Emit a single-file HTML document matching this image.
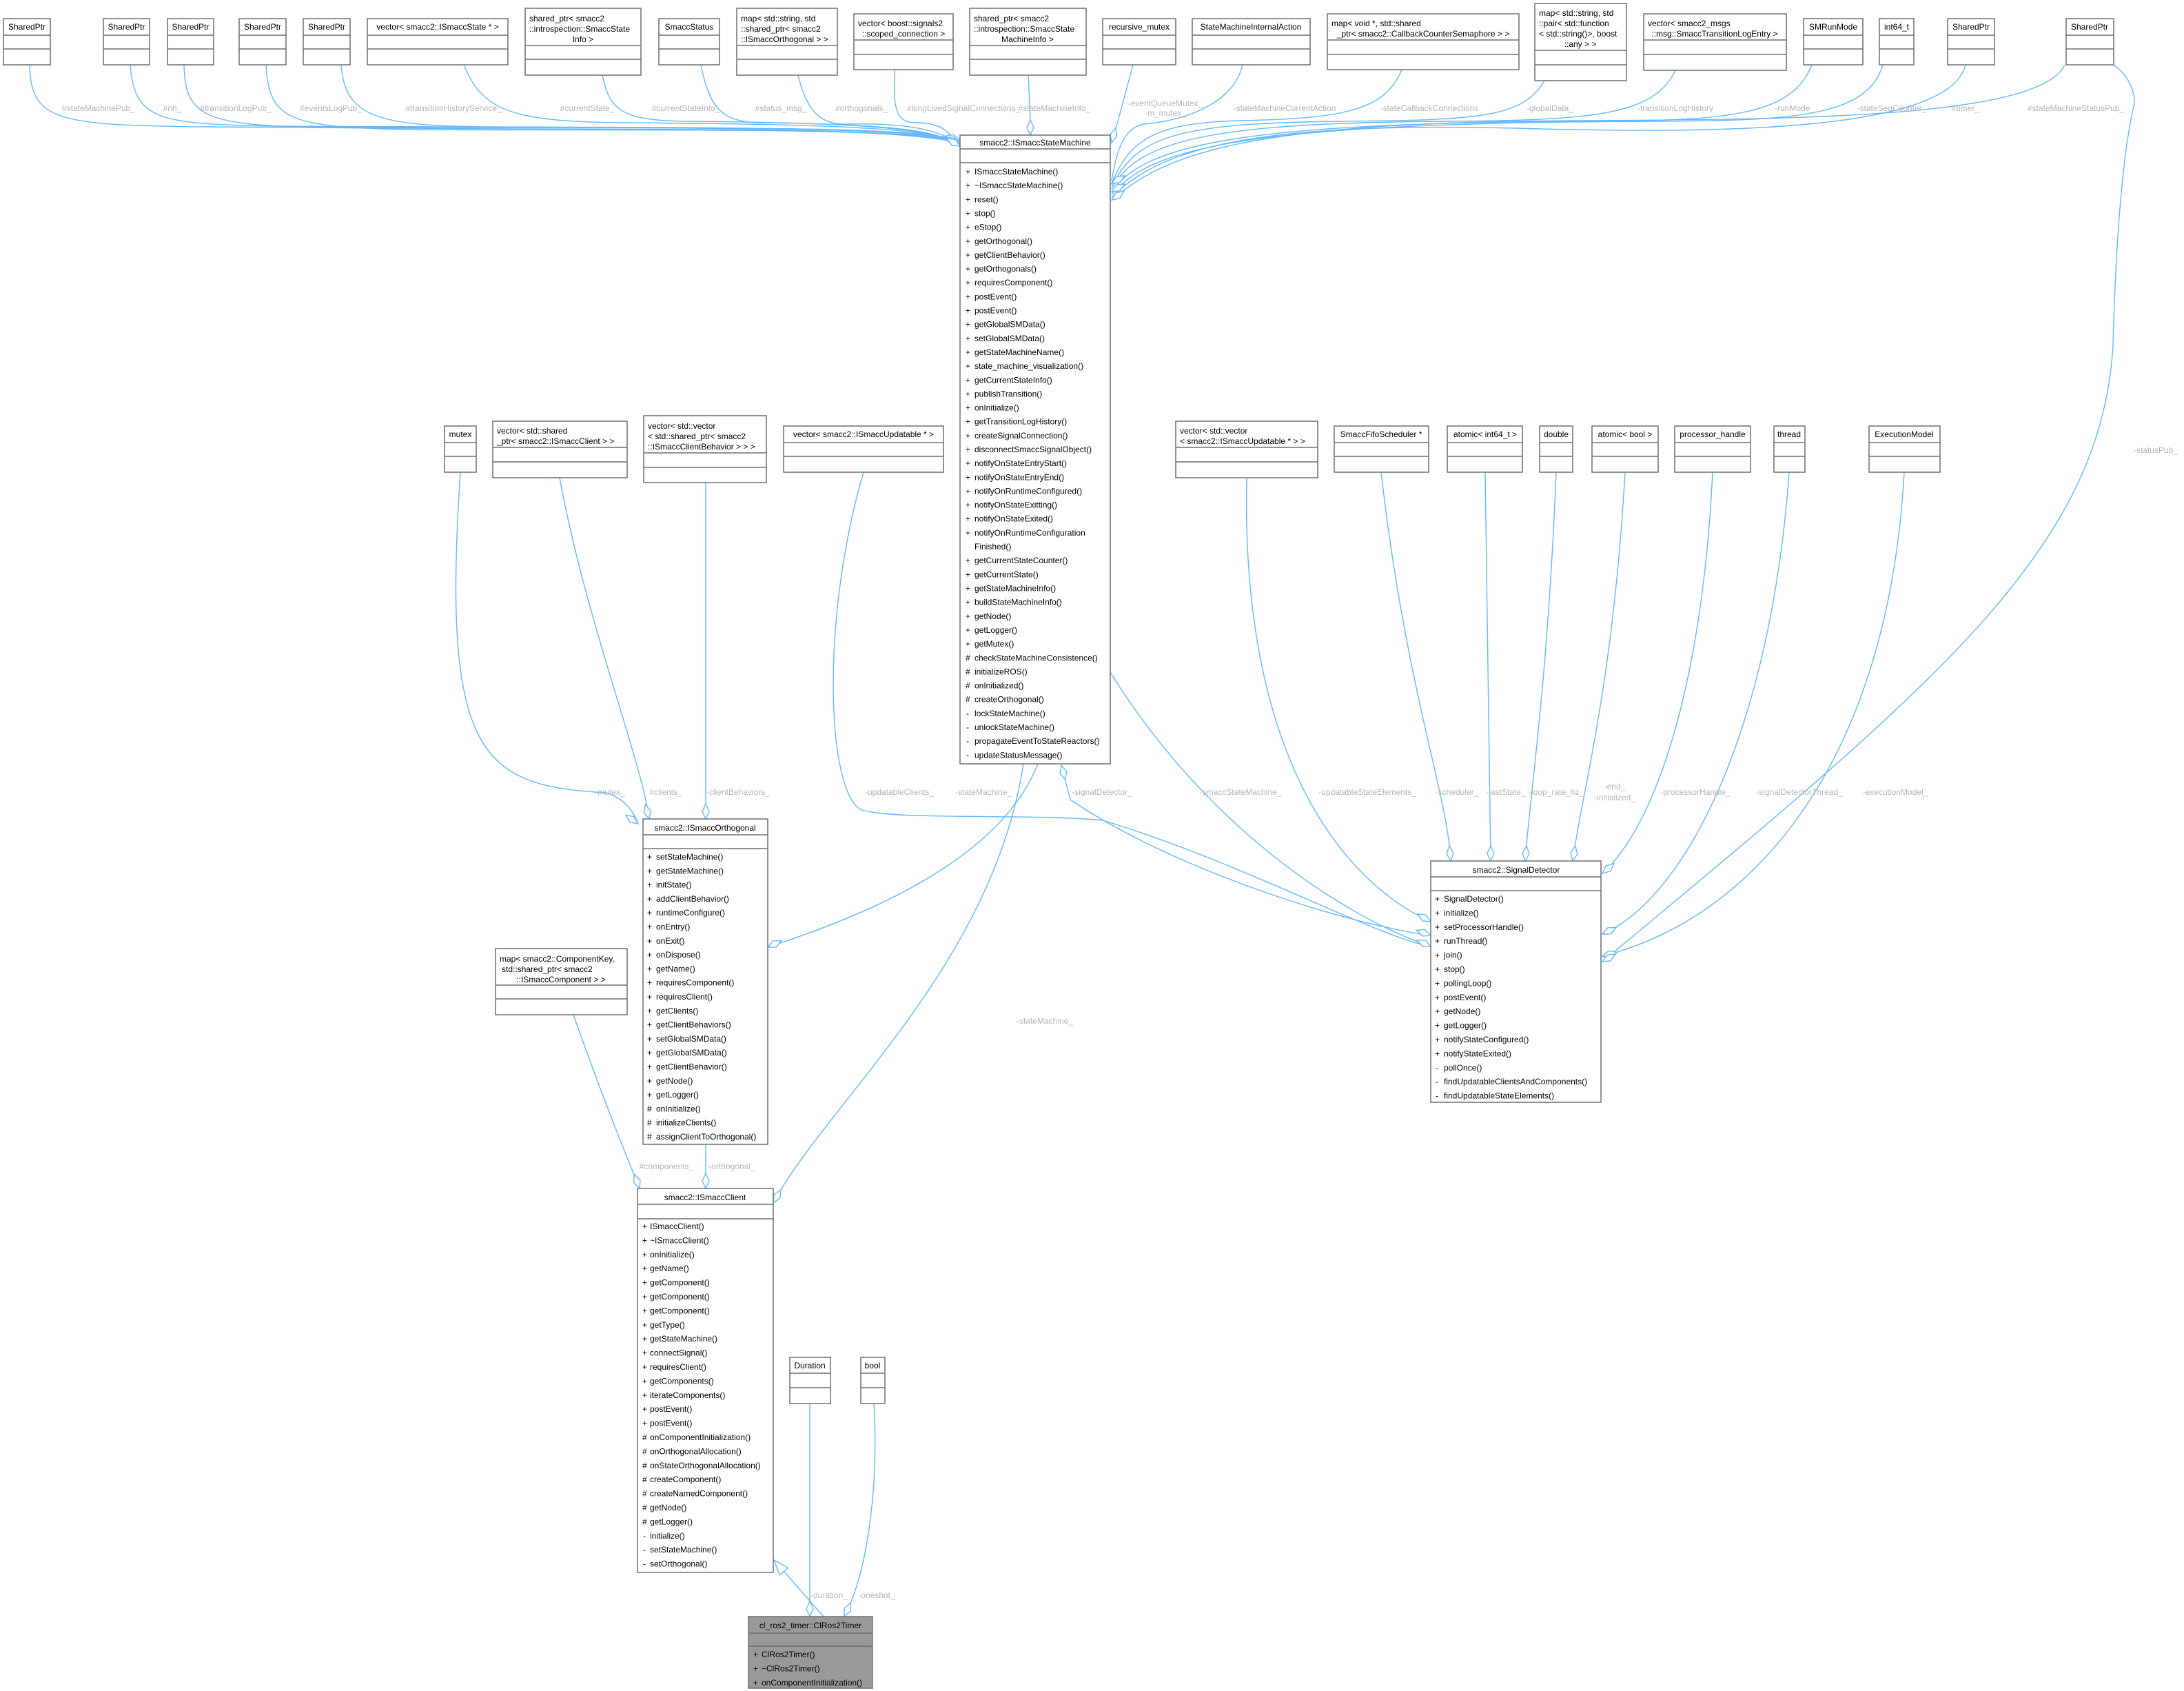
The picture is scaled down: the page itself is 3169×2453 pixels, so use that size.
<!DOCTYPE html>
<html><head><meta charset="utf-8"><style>
html,body{margin:0;padding:0;background:#fff;}
svg{display:block;}
text{font-family:"Liberation Sans",Arial,sans-serif;font-size:12px;fill:#000;}
.l text{fill:#b4b4b4;font-size:12px;}
.b{fill:#fff;stroke:#6e6e6e;stroke-width:1.5;}
.d{stroke:#6e6e6e;stroke-width:1.5;}
.e{fill:none;stroke:#63b8ff;stroke-width:1.4;}
.dm{fill:#fff;stroke:#63b8ff;stroke-width:1.4;}
</style></head><body>
<svg width="3169" height="2453" viewBox="0 0 3169 2453" xmlns="http://www.w3.org/2000/svg">
<defs>
<polygon id="dia" points="0,0 -11,-5 -22,0 -11,5"/>
</defs>

<g class="e">
<path d="M43,94 C45,175 80,182 300,184 C900,188 1300,178 1391,203"/>
<path d="M189,94 C195,175 230,180 400,183 C900,186 1300,180 1391,204"/>
<path d="M267,94 C268,170 300,180 450,185 C900,190 1300,182 1391,205"/>
<path d="M386,94 C390,175 420,185 600,188 C1000,190 1300,184 1391,206"/>
<path d="M495,94 C500,170 550,182 700,184 C1000,186 1300,185 1391,207"/>
<path d="M673,94 C700,160 740,176 900,178 C1200,180 1350,185 1391,208"/>
<path d="M874,109 C885,160 900,175 1000,176 C1250,178 1350,186 1391,209"/>
<path d="M1017,94 C1030,160 1050,176 1100,178 C1300,180 1360,190 1391,210"/>
<path d="M1158,109 C1170,160 1190,182 1230,180 C1320,178 1370,190 1391,211"/>
<path d="M1298,101 C1296,160 1300,178 1330,178 C1370,178 1380,195 1391,212"/>
<path d="M1492,109 L1495,174"/>
<path d="M1644,94 L1614,206"/>
<path d="M1803,94 C1790,150 1720,175 1660,180 C1630,185 1620,220 1613,262"/>
<path d="M2034,101 C2010,160 1950,172 1800,175 C1680,178 1640,200 1613,266"/>
<path d="M2241,117 C2210,170 2150,174 1950,176 C1700,178 1650,200 1613,270"/>
<path d="M2431,102 C2400,170 2300,174 2100,176 C1750,178 1650,205 1613,274"/>
<path d="M2629,94 C2600,170 2500,175 2300,176 C1800,178 1660,210 1613,278"/>
<path d="M2732,94 C2710,170 2600,175 2400,176 C1800,178 1670,215 1613,282"/>
<path d="M2852,94 C2830,190 2500,195 2200,186 C1800,176 1680,220 1613,286"/>
<path d="M2996,94 C2960,172 2600,173 2300,175 C1800,176 1690,225 1613,290"/>
<path d="M3066,94 C3085,105 3098,130 3097,150 C3080,220 3070,350 3066,500 C3050,800 2800,1000 2325,1395"/>
<path d="M668,685 C640,1100 700,1140 880,1150 C910,1160 920,1180 926,1195"/>
<path d="M812,693 C850,900 930,1100 942,1188"/>
<path d="M1024,700 L1024,1188"/>
<path d="M1253,685 C1190,900 1200,1150 1250,1175 C1300,1190 1500,1180 1600,1190 C1800,1250 2000,1360 2076,1373"/>
<path d="M1506,1108 C1450,1250 1250,1330 1114,1374"/>
<path d="M1485,1108 C1440,1400 1200,1600 1122,1745"/>
<path d="M1540,1110 L1553,1160 C1700,1260 1950,1340 2076,1357"/>
<path d="M1611,975 C1750,1200 1950,1330 2076,1373"/>
<path d="M1809,693 C1800,1100 1950,1280 2076,1337"/>
<path d="M2004,685 C2040,1000 2100,1150 2105,1249"/>
<path d="M2155,685 C2158,1000 2162,1150 2163,1249"/>
<path d="M2258,685 C2245,1000 2220,1150 2213,1249"/>
<path d="M2358,685 C2340,1000 2295,1150 2282,1249"/>
<path d="M2485,685 C2470,1000 2400,1200 2325,1267"/>
<path d="M2596,685 C2570,1050 2450,1300 2325,1355"/>
<path d="M2763,685 C2740,1100 2550,1330 2325,1387"/>
<path d="M1024,1660 L1024,1724"/>
<path d="M832,1472 C870,1580 910,1680 928,1724"/>
<path d="M1175,2036 L1175,2345"/>
<path d="M1268,2036 C1275,2150 1260,2280 1225,2345"/>
<path d="M1195,2345 L1123,2263"/>
</g>

<g class="dm">
<use href="#dia" transform="translate(1393,203) rotate(15)"/>
<use href="#dia" transform="translate(1393,206) rotate(15)"/>
<use href="#dia" transform="translate(1393,209) rotate(20)"/>
<use href="#dia" transform="translate(1393,212) rotate(30)"/>
<use href="#dia" transform="translate(1495,196) rotate(90)"/>
<use href="#dia" transform="translate(1613,207) rotate(105)"/>
<use href="#dia" transform="translate(1613,266) rotate(150)"/>
<use href="#dia" transform="translate(1613,278) rotate(150)"/>
<use href="#dia" transform="translate(1613,290) rotate(145)"/>
<use href="#dia" transform="translate(926,1195) rotate(35)"/>
<use href="#dia" transform="translate(942,1188) rotate(75)"/>
<use href="#dia" transform="translate(1024,1188) rotate(90)"/>
<use href="#dia" transform="translate(1114,1374) rotate(155)"/>
<use href="#dia" transform="translate(1122,1745) rotate(120)"/>
<use href="#dia" transform="translate(1540,1110) rotate(-105)"/>
<use href="#dia" transform="translate(2076,1337) rotate(30)"/>
<use href="#dia" transform="translate(2076,1357) rotate(20)"/>
<use href="#dia" transform="translate(2076,1373) rotate(25)"/>
<use href="#dia" transform="translate(2105,1249) rotate(85)"/>
<use href="#dia" transform="translate(2163,1249) rotate(90)"/>
<use href="#dia" transform="translate(2213,1249) rotate(95)"/>
<use href="#dia" transform="translate(2282,1249) rotate(100)"/>
<use href="#dia" transform="translate(2325,1267) rotate(140)"/>
<use href="#dia" transform="translate(2325,1355) rotate(155)"/>
<use href="#dia" transform="translate(2325,1387) rotate(165)"/>
<use href="#dia" transform="translate(2325,1395) rotate(150)"/>
<use href="#dia" transform="translate(1024,1724) rotate(90)"/>
<use href="#dia" transform="translate(928,1724) rotate(70)"/>
<use href="#dia" transform="translate(1175,2345) rotate(90)"/>
<use href="#dia" transform="translate(1225,2345) rotate(115)"/>
<polygon points="0,0 -22,-8 -22,8" transform="translate(1123,2263) rotate(-131)"/>
</g>

<g class="l" text-anchor="middle">
<text x="143" y="161">#stateMachinePub_</text>
<text x="250" y="161">#nh_</text>
<text x="342" y="161">#transitionLogPub_</text>
<text x="480" y="161">#eventsLogPub_</text>
<text x="658" y="161">#transitionHistoryService_</text>
<text x="852" y="161">#currentState_</text>
<text x="995" y="161">#currentStateInfo_</text>
<text x="1133" y="161">#status_msg_</text>
<text x="1250" y="161">#orthogonals_</text>
<text x="1398" y="161">#longLivedSignalConnections_</text>
<text x="1530" y="161">#stateMachineInfo_</text>
<text x="1691" y="154">-eventQueueMutex_</text>
<text x="1691" y="168">-m_mutex_</text>
<text x="1864" y="161">-stateMachineCurrentAction</text>
<text x="2074" y="161">-stateCallbackConnections</text>
<text x="2249" y="161">-globalData_</text>
<text x="2431" y="161">-transitionLogHistory</text>
<text x="2604" y="161">-runMode_</text>
<text x="2745" y="161">-stateSeqCounter_</text>
<text x="2852" y="161">#timer_</text>
<text x="3012" y="161">#stateMachineStatusPub_</text>
<text x="3128" y="657">-statusPub_</text>
<text x="885" y="1153">-mutex_</text>
<text x="966" y="1153">#clients_</text>
<text x="1071" y="1153">-clientBehaviors_</text>
<text x="1305" y="1153">-updatableClients_</text>
<text x="1427" y="1153">-stateMachine_</text>
<text x="1599" y="1153">-signalDetector_</text>
<text x="1800" y="1153">-smaccStateMachine_</text>
<text x="1984" y="1153">-updatableStateElements_</text>
<text x="2114" y="1153">-scheduler_</text>
<text x="2185" y="1153">-lastState_</text>
<text x="2258" y="1153">-loop_rate_hz_</text>
<text x="2343" y="1145">-end_</text>
<text x="2343" y="1161">-initialized_</text>
<text x="2460" y="1153">-processorHandle_</text>
<text x="2611" y="1153">-signalDetectorThread_</text>
<text x="2750" y="1153">-executionModel_</text>
<text x="1516" y="1485">-stateMachine_</text>
<text x="967" y="1696">#components_</text>
<text x="1062" y="1696">-orthogonal_</text>
<text x="1203" y="2318">-duration_</text>
<text x="1272" y="2318">-oneshot_</text>
</g>

<g>
<rect class="b" x="5" y="27" width="68" height="67"/><line class="d" x1="5" y1="51" x2="73" y2="51"/><line class="d" x1="5" y1="71" x2="73" y2="71"/><text x="39" y="43" text-anchor="middle">SharedPtr</text>
<rect class="b" x="150" y="27" width="67" height="67"/><line class="d" x1="150" y1="51" x2="217" y2="51"/><line class="d" x1="150" y1="71" x2="217" y2="71"/><text x="183.5" y="43" text-anchor="middle">SharedPtr</text>
<rect class="b" x="243" y="27" width="67" height="67"/><line class="d" x1="243" y1="51" x2="310" y2="51"/><line class="d" x1="243" y1="71" x2="310" y2="71"/><text x="276.5" y="43" text-anchor="middle">SharedPtr</text>
<rect class="b" x="347" y="27" width="68" height="67"/><line class="d" x1="347" y1="51" x2="415" y2="51"/><line class="d" x1="347" y1="71" x2="415" y2="71"/><text x="381" y="43" text-anchor="middle">SharedPtr</text>
<rect class="b" x="440" y="27" width="68" height="67"/><line class="d" x1="440" y1="51" x2="508" y2="51"/><line class="d" x1="440" y1="71" x2="508" y2="71"/><text x="474" y="43" text-anchor="middle">SharedPtr</text>
<rect class="b" x="533" y="27" width="204" height="67"/><line class="d" x1="533" y1="51" x2="737" y2="51"/><line class="d" x1="533" y1="71" x2="737" y2="71"/><text x="635" y="43" text-anchor="middle">vector&lt; smacc2::ISmaccState * &gt;</text>
<rect class="b" x="762" y="12" width="168" height="97"/><line class="d" x1="762" y1="66" x2="930" y2="66"/><line class="d" x1="762" y1="86" x2="930" y2="86"/><text x="768" y="31">shared_ptr&lt; smacc2</text><text x="768" y="46">::introspection::SmaccState</text><text x="846" y="61" text-anchor="middle">Info &gt;</text>
<rect class="b" x="956" y="27" width="88" height="67"/><line class="d" x1="956" y1="51" x2="1044" y2="51"/><line class="d" x1="956" y1="71" x2="1044" y2="71"/><text x="1000" y="43" text-anchor="middle">SmaccStatus</text>
<rect class="b" x="1069" y="12" width="146" height="97"/><line class="d" x1="1069" y1="66" x2="1215" y2="66"/><line class="d" x1="1069" y1="86" x2="1215" y2="86"/><text x="1075" y="31">map&lt; std::string, std</text><text x="1075" y="46">::shared_ptr&lt; smacc2</text><text x="1075" y="61">::ISmaccOrthogonal &gt; &gt;</text>
<rect class="b" x="1239" y="20" width="144" height="81"/><line class="d" x1="1239" y1="58" x2="1383" y2="58"/><line class="d" x1="1239" y1="79" x2="1383" y2="79"/><text x="1245" y="38">vector&lt; boost::signals2</text><text x="1311" y="53" text-anchor="middle">::scoped_connection &gt;</text>
<rect class="b" x="1407" y="12" width="169" height="97"/><line class="d" x1="1407" y1="66" x2="1576" y2="66"/><line class="d" x1="1407" y1="86" x2="1576" y2="86"/><text x="1413" y="31">shared_ptr&lt; smacc2</text><text x="1413" y="46">::introspection::SmaccState</text><text x="1491" y="61" text-anchor="middle">MachineInfo &gt;</text>
<rect class="b" x="1600" y="27" width="106" height="67"/><line class="d" x1="1600" y1="51" x2="1706" y2="51"/><line class="d" x1="1600" y1="71" x2="1706" y2="71"/><text x="1653" y="43" text-anchor="middle">recursive_mutex</text>
<rect class="b" x="1730" y="27" width="171" height="67"/><line class="d" x1="1730" y1="51" x2="1901" y2="51"/><line class="d" x1="1730" y1="71" x2="1901" y2="71"/><text x="1815" y="43" text-anchor="middle">StateMachineInternalAction</text>
<rect class="b" x="1926" y="20" width="278" height="81"/><line class="d" x1="1926" y1="58" x2="2204" y2="58"/><line class="d" x1="1926" y1="79" x2="2204" y2="79"/><text x="1932" y="38">map&lt; void *, std::shared</text><text x="2065" y="53" text-anchor="middle">_ptr&lt; smacc2::CallbackCounterSemaphore &gt; &gt;</text>
<rect class="b" x="2227" y="5" width="133" height="112"/><line class="d" x1="2227" y1="73" x2="2360" y2="73"/><line class="d" x1="2227" y1="94" x2="2360" y2="94"/><text x="2233" y="23">map&lt; std::string, std</text><text x="2233" y="38">::pair&lt; std::function</text><text x="2233" y="53">&lt; std::string()&gt;, boost</text><text x="2293" y="68" text-anchor="middle">::any &gt; &gt;</text>
<rect class="b" x="2385" y="20" width="207" height="82"/><line class="d" x1="2385" y1="58" x2="2592" y2="58"/><line class="d" x1="2385" y1="79" x2="2592" y2="79"/><text x="2391" y="38">vector&lt; smacc2_msgs</text><text x="2488" y="53" text-anchor="middle">::msg::SmaccTransitionLogEntry &gt;</text>
<rect class="b" x="2617" y="27" width="86" height="67"/><line class="d" x1="2617" y1="51" x2="2703" y2="51"/><line class="d" x1="2617" y1="71" x2="2703" y2="71"/><text x="2660" y="43" text-anchor="middle">SMRunMode</text>
<rect class="b" x="2727" y="27" width="50" height="67"/><line class="d" x1="2727" y1="51" x2="2777" y2="51"/><line class="d" x1="2727" y1="71" x2="2777" y2="71"/><text x="2752" y="43" text-anchor="middle">int64_t</text>
<rect class="b" x="2826" y="27" width="68" height="67"/><line class="d" x1="2826" y1="51" x2="2894" y2="51"/><line class="d" x1="2826" y1="71" x2="2894" y2="71"/><text x="2860" y="43" text-anchor="middle">SharedPtr</text>
<rect class="b" x="2998" y="27" width="69" height="67"/><line class="d" x1="2998" y1="51" x2="3067" y2="51"/><line class="d" x1="2998" y1="71" x2="3067" y2="71"/><text x="3032" y="43" text-anchor="middle">SharedPtr</text>
</g>

<g>
<rect class="b" x="645" y="618" width="46" height="67"/><line class="d" x1="645" y1="642" x2="691" y2="642"/><line class="d" x1="645" y1="662" x2="691" y2="662"/><text x="668" y="634" text-anchor="middle">mutex</text>
<rect class="b" x="715" y="611" width="195" height="82"/><line class="d" x1="715" y1="649" x2="910" y2="649"/><line class="d" x1="715" y1="670" x2="910" y2="670"/><text x="721" y="629">vector&lt; std::shared</text><text x="721" y="644">_ptr&lt; smacc2::ISmaccClient &gt; &gt;</text>
<rect class="b" x="934" y="603" width="178" height="97"/><line class="d" x1="934" y1="657" x2="1112" y2="657"/><line class="d" x1="934" y1="678" x2="1112" y2="678"/><text x="940" y="622">vector&lt; std::vector</text><text x="940" y="637">&lt; std::shared_ptr&lt; smacc2</text><text x="940" y="652">::ISmaccClientBehavior &gt; &gt; &gt;</text>
<rect class="b" x="1137" y="618" width="232" height="67"/><line class="d" x1="1137" y1="642" x2="1369" y2="642"/><line class="d" x1="1137" y1="662" x2="1369" y2="662"/><text x="1253" y="634" text-anchor="middle">vector&lt; smacc2::ISmaccUpdatable * &gt;</text>
<rect class="b" x="1706" y="611" width="206" height="82"/><line class="d" x1="1706" y1="649" x2="1912" y2="649"/><line class="d" x1="1706" y1="670" x2="1912" y2="670"/><text x="1712" y="629">vector&lt; std::vector</text><text x="1712" y="644">&lt; smacc2::ISmaccUpdatable * &gt; &gt;</text>
<rect class="b" x="1936" y="618" width="137" height="67"/><line class="d" x1="1936" y1="642" x2="2073" y2="642"/><line class="d" x1="1936" y1="662" x2="2073" y2="662"/><text x="2004" y="634" text-anchor="middle">SmaccFifoScheduler *</text>
<rect class="b" x="2100" y="618" width="109" height="67"/><line class="d" x1="2100" y1="642" x2="2209" y2="642"/><line class="d" x1="2100" y1="662" x2="2209" y2="662"/><text x="2155" y="634" text-anchor="middle">atomic&lt; int64_t &gt;</text>
<rect class="b" x="2234" y="618" width="48" height="67"/><line class="d" x1="2234" y1="642" x2="2282" y2="642"/><line class="d" x1="2234" y1="662" x2="2282" y2="662"/><text x="2258" y="634" text-anchor="middle">double</text>
<rect class="b" x="2310" y="618" width="96" height="67"/><line class="d" x1="2310" y1="642" x2="2406" y2="642"/><line class="d" x1="2310" y1="662" x2="2406" y2="662"/><text x="2358" y="634" text-anchor="middle">atomic&lt; bool &gt;</text>
<rect class="b" x="2430" y="618" width="110" height="67"/><line class="d" x1="2430" y1="642" x2="2540" y2="642"/><line class="d" x1="2430" y1="662" x2="2540" y2="662"/><text x="2485" y="634" text-anchor="middle">processor_handle</text>
<rect class="b" x="2574" y="618" width="45" height="67"/><line class="d" x1="2574" y1="642" x2="2619" y2="642"/><line class="d" x1="2574" y1="662" x2="2619" y2="662"/><text x="2596" y="634" text-anchor="middle">thread</text>
<rect class="b" x="2712" y="618" width="103" height="67"/><line class="d" x1="2712" y1="642" x2="2815" y2="642"/><line class="d" x1="2712" y1="662" x2="2815" y2="662"/><text x="2763" y="634" text-anchor="middle">ExecutionModel</text>
<rect class="b" x="719" y="1376" width="191" height="96"/><line class="d" x1="719" y1="1429" x2="910" y2="1429"/><line class="d" x1="719" y1="1449" x2="910" y2="1449"/><text x="725" y="1395">map&lt; smacc2::ComponentKey,</text><text x="728" y="1410">std::shared_ptr&lt; smacc2</text><text x="814" y="1425" text-anchor="middle">::ISmaccComponent &gt; &gt;</text>
<rect class="b" x="1146" y="1969" width="59" height="67"/><line class="d" x1="1146" y1="1992" x2="1205" y2="1992"/><line class="d" x1="1146" y1="2013" x2="1205" y2="2013"/><text x="1175" y="1985" text-anchor="middle">Duration</text>
<rect class="b" x="1249" y="1969" width="35" height="67"/><line class="d" x1="1249" y1="1992" x2="1284" y2="1992"/><line class="d" x1="1249" y1="2013" x2="1284" y2="2013"/><text x="1266" y="1985" text-anchor="middle">bool</text>
</g>

<rect class="b" x="1393" y="196" width="218" height="912"/>
<line class="d" x1="1393" y1="216" x2="1611" y2="216"/><line class="d" x1="1393" y1="236" x2="1611" y2="236"/>
<text x="1502" y="211" text-anchor="middle">smacc2::ISmaccStateMachine</text>
<text x="1401" y="253"><tspan x="1401">+</tspan><tspan x="1401" dy="20.15">+</tspan><tspan x="1401" dy="20.15">+</tspan><tspan x="1401" dy="20.15">+</tspan><tspan x="1401" dy="20.15">+</tspan><tspan x="1401" dy="20.15">+</tspan><tspan x="1401" dy="20.15">+</tspan><tspan x="1401" dy="20.15">+</tspan><tspan x="1401" dy="20.15">+</tspan><tspan x="1401" dy="20.15">+</tspan><tspan x="1401" dy="20.15">+</tspan><tspan x="1401" dy="20.15">+</tspan><tspan x="1401" dy="20.15">+</tspan><tspan x="1401" dy="20.15">+</tspan><tspan x="1401" dy="20.15">+</tspan><tspan x="1401" dy="20.15">+</tspan><tspan x="1401" dy="20.15">+</tspan><tspan x="1401" dy="20.15">+</tspan><tspan x="1401" dy="20.15">+</tspan><tspan x="1401" dy="20.15">+</tspan><tspan x="1401" dy="20.15">+</tspan><tspan x="1401" dy="20.15">+</tspan><tspan x="1401" dy="20.15">+</tspan><tspan x="1401" dy="20.15">+</tspan><tspan x="1401" dy="20.15">+</tspan><tspan x="1401" dy="20.15">+</tspan><tspan x="1401" dy="20.15">+</tspan><tspan x="1401" dy="40.3">+</tspan><tspan x="1401" dy="20.15">+</tspan><tspan x="1401" dy="20.15">+</tspan><tspan x="1401" dy="20.15">+</tspan><tspan x="1401" dy="20.15">+</tspan><tspan x="1401" dy="20.15">+</tspan><tspan x="1401" dy="20.15">+</tspan><tspan x="1401" dy="20.15">#</tspan><tspan x="1401" dy="20.15">#</tspan><tspan x="1401" dy="20.15">#</tspan><tspan x="1401" dy="20.15">#</tspan><tspan x="1402" dy="20.15">-</tspan><tspan x="1402" dy="20.15">-</tspan><tspan x="1402" dy="20.15">-</tspan><tspan x="1402" dy="20.15">-</tspan></text>
<text x="1414" y="253"><tspan x="1414">ISmaccStateMachine()</tspan><tspan x="1414" dy="20.15">~ISmaccStateMachine()</tspan><tspan x="1414" dy="20.15">reset()</tspan><tspan x="1414" dy="20.15">stop()</tspan><tspan x="1414" dy="20.15">eStop()</tspan><tspan x="1414" dy="20.15">getOrthogonal()</tspan><tspan x="1414" dy="20.15">getClientBehavior()</tspan><tspan x="1414" dy="20.15">getOrthogonals()</tspan><tspan x="1414" dy="20.15">requiresComponent()</tspan><tspan x="1414" dy="20.15">postEvent()</tspan><tspan x="1414" dy="20.15">postEvent()</tspan><tspan x="1414" dy="20.15">getGlobalSMData()</tspan><tspan x="1414" dy="20.15">setGlobalSMData()</tspan><tspan x="1414" dy="20.15">getStateMachineName()</tspan><tspan x="1414" dy="20.15">state_machine_visualization()</tspan><tspan x="1414" dy="20.15">getCurrentStateInfo()</tspan><tspan x="1414" dy="20.15">publishTransition()</tspan><tspan x="1414" dy="20.15">onInitialize()</tspan><tspan x="1414" dy="20.15">getTransitionLogHistory()</tspan><tspan x="1414" dy="20.15">createSignalConnection()</tspan><tspan x="1414" dy="20.15">disconnectSmaccSignalObject()</tspan><tspan x="1414" dy="20.15">notifyOnStateEntryStart()</tspan><tspan x="1414" dy="20.15">notifyOnStateEntryEnd()</tspan><tspan x="1414" dy="20.15">notifyOnRuntimeConfigured()</tspan><tspan x="1414" dy="20.15">notifyOnStateExitting()</tspan><tspan x="1414" dy="20.15">notifyOnStateExited()</tspan><tspan x="1414" dy="20.15">notifyOnRuntimeConfiguration</tspan><tspan x="1414" dy="20.15">Finished()</tspan><tspan x="1414" dy="20.15">getCurrentStateCounter()</tspan><tspan x="1414" dy="20.15">getCurrentState()</tspan><tspan x="1414" dy="20.15">getStateMachineInfo()</tspan><tspan x="1414" dy="20.15">buildStateMachineInfo()</tspan><tspan x="1414" dy="20.15">getNode()</tspan><tspan x="1414" dy="20.15">getLogger()</tspan><tspan x="1414" dy="20.15">getMutex()</tspan><tspan x="1414" dy="20.15">checkStateMachineConsistence()</tspan><tspan x="1414" dy="20.15">initializeROS()</tspan><tspan x="1414" dy="20.15">onInitialized()</tspan><tspan x="1414" dy="20.15">createOrthogonal()</tspan><tspan x="1414" dy="20.15">lockStateMachine()</tspan><tspan x="1414" dy="20.15">unlockStateMachine()</tspan><tspan x="1414" dy="20.15">propagateEventToStateReactors()</tspan><tspan x="1414" dy="20.15">updateStatusMessage()</tspan></text>

<rect class="b" x="933" y="1188" width="181" height="472"/>
<line class="d" x1="933" y1="1211" x2="1114" y2="1211"/><line class="d" x1="933" y1="1231" x2="1114" y2="1231"/>
<text x="1023" y="1205" text-anchor="middle">smacc2::ISmaccOrthogonal</text>
<text y="1247"><tspan x="939">+</tspan><tspan x="939" dy="20.3">+</tspan><tspan x="939" dy="20.3">+</tspan><tspan x="939" dy="20.3">+</tspan><tspan x="939" dy="20.3">+</tspan><tspan x="939" dy="20.3">+</tspan><tspan x="939" dy="20.3">+</tspan><tspan x="939" dy="20.3">+</tspan><tspan x="939" dy="20.3">+</tspan><tspan x="939" dy="20.3">+</tspan><tspan x="939" dy="20.3">+</tspan><tspan x="939" dy="20.3">+</tspan><tspan x="939" dy="20.3">+</tspan><tspan x="939" dy="20.3">+</tspan><tspan x="939" dy="20.3">+</tspan><tspan x="939" dy="20.3">+</tspan><tspan x="939" dy="20.3">+</tspan><tspan x="939" dy="20.3">+</tspan><tspan x="939" dy="20.3">#</tspan><tspan x="939" dy="20.3">#</tspan><tspan x="939" dy="20.3">#</tspan></text>
<text y="1247"><tspan x="952">setStateMachine()</tspan><tspan x="952" dy="20.3">getStateMachine()</tspan><tspan x="952" dy="20.3">initState()</tspan><tspan x="952" dy="20.3">addClientBehavior()</tspan><tspan x="952" dy="20.3">runtimeConfigure()</tspan><tspan x="952" dy="20.3">onEntry()</tspan><tspan x="952" dy="20.3">onExit()</tspan><tspan x="952" dy="20.3">onDispose()</tspan><tspan x="952" dy="20.3">getName()</tspan><tspan x="952" dy="20.3">requiresComponent()</tspan><tspan x="952" dy="20.3">requiresClient()</tspan><tspan x="952" dy="20.3">getClients()</tspan><tspan x="952" dy="20.3">getClientBehaviors()</tspan><tspan x="952" dy="20.3">setGlobalSMData()</tspan><tspan x="952" dy="20.3">getGlobalSMData()</tspan><tspan x="952" dy="20.3">getClientBehavior()</tspan><tspan x="952" dy="20.3">getNode()</tspan><tspan x="952" dy="20.3">getLogger()</tspan><tspan x="952" dy="20.3">onInitialize()</tspan><tspan x="952" dy="20.3">initializeClients()</tspan><tspan x="952" dy="20.3">assignClientToOrthogonal()</tspan></text>

<rect class="b" x="925" y="1724" width="197" height="557"/>
<line class="d" x1="925" y1="1747" x2="1122" y2="1747"/><line class="d" x1="925" y1="1768" x2="1122" y2="1768"/>
<text x="1023" y="1741" text-anchor="middle">smacc2::ISmaccClient</text>
<text y="1783"><tspan x="932">+</tspan><tspan x="932" dy="20.4">+</tspan><tspan x="932" dy="20.4">+</tspan><tspan x="932" dy="20.4">+</tspan><tspan x="932" dy="20.4">+</tspan><tspan x="932" dy="20.4">+</tspan><tspan x="932" dy="20.4">+</tspan><tspan x="932" dy="20.4">+</tspan><tspan x="932" dy="20.4">+</tspan><tspan x="932" dy="20.4">+</tspan><tspan x="932" dy="20.4">+</tspan><tspan x="932" dy="20.4">+</tspan><tspan x="932" dy="20.4">+</tspan><tspan x="932" dy="20.4">+</tspan><tspan x="932" dy="20.4">+</tspan><tspan x="932" dy="20.4">#</tspan><tspan x="932" dy="20.4">#</tspan><tspan x="932" dy="20.4">#</tspan><tspan x="932" dy="20.4">#</tspan><tspan x="932" dy="20.4">#</tspan><tspan x="932" dy="20.4">#</tspan><tspan x="932" dy="20.4">#</tspan><tspan x="933" dy="20.4">-</tspan><tspan x="933" dy="20.4">-</tspan><tspan x="933" dy="20.4">-</tspan></text>
<text y="1783"><tspan x="943">ISmaccClient()</tspan><tspan x="943" dy="20.4">~ISmaccClient()</tspan><tspan x="943" dy="20.4">onInitialize()</tspan><tspan x="943" dy="20.4">getName()</tspan><tspan x="943" dy="20.4">getComponent()</tspan><tspan x="943" dy="20.4">getComponent()</tspan><tspan x="943" dy="20.4">getComponent()</tspan><tspan x="943" dy="20.4">getType()</tspan><tspan x="943" dy="20.4">getStateMachine()</tspan><tspan x="943" dy="20.4">connectSignal()</tspan><tspan x="943" dy="20.4">requiresClient()</tspan><tspan x="943" dy="20.4">getComponents()</tspan><tspan x="943" dy="20.4">iterateComponents()</tspan><tspan x="943" dy="20.4">postEvent()</tspan><tspan x="943" dy="20.4">postEvent()</tspan><tspan x="943" dy="20.4">onComponentInitialization()</tspan><tspan x="943" dy="20.4">onOrthogonalAllocation()</tspan><tspan x="943" dy="20.4">onStateOrthogonalAllocation()</tspan><tspan x="943" dy="20.4">createComponent()</tspan><tspan x="943" dy="20.4">createNamedComponent()</tspan><tspan x="943" dy="20.4">getNode()</tspan><tspan x="943" dy="20.4">getLogger()</tspan><tspan x="943" dy="20.4">initialize()</tspan><tspan x="943" dy="20.4">setStateMachine()</tspan><tspan x="943" dy="20.4">setOrthogonal()</tspan></text>

<rect class="b" x="2076" y="1249" width="247" height="350"/>
<line class="d" x1="2076" y1="1272" x2="2323" y2="1272"/><line class="d" x1="2076" y1="1292" x2="2323" y2="1292"/>
<text x="2200" y="1266" text-anchor="middle">smacc2::SignalDetector</text>
<text y="1308"><tspan x="2082">+</tspan><tspan x="2082" dy="20.4">+</tspan><tspan x="2082" dy="20.4">+</tspan><tspan x="2082" dy="20.4">+</tspan><tspan x="2082" dy="20.4">+</tspan><tspan x="2082" dy="20.4">+</tspan><tspan x="2082" dy="20.4">+</tspan><tspan x="2082" dy="20.4">+</tspan><tspan x="2082" dy="20.4">+</tspan><tspan x="2082" dy="20.4">+</tspan><tspan x="2082" dy="20.4">+</tspan><tspan x="2082" dy="20.4">+</tspan><tspan x="2083" dy="20.4">-</tspan><tspan x="2083" dy="20.4">-</tspan><tspan x="2083" dy="20.4">-</tspan></text>
<text y="1308"><tspan x="2095">SignalDetector()</tspan><tspan x="2095" dy="20.4">initialize()</tspan><tspan x="2095" dy="20.4">setProcessorHandle()</tspan><tspan x="2095" dy="20.4">runThread()</tspan><tspan x="2095" dy="20.4">join()</tspan><tspan x="2095" dy="20.4">stop()</tspan><tspan x="2095" dy="20.4">pollingLoop()</tspan><tspan x="2095" dy="20.4">postEvent()</tspan><tspan x="2095" dy="20.4">getNode()</tspan><tspan x="2095" dy="20.4">getLogger()</tspan><tspan x="2095" dy="20.4">notifyStateConfigured()</tspan><tspan x="2095" dy="20.4">notifyStateExited()</tspan><tspan x="2095" dy="20.4">pollOnce()</tspan><tspan x="2095" dy="20.4">findUpdatableClientsAndComponents()</tspan><tspan x="2095" dy="20.4">findUpdatableStateElements()</tspan></text>

<rect x="1086" y="2345" width="180" height="104" fill="#999999" stroke="#6e6e6e" stroke-width="1.5"/>
<line class="d" x1="1086" y1="2369" x2="1266" y2="2369"/><line class="d" x1="1086" y1="2388" x2="1266" y2="2388"/>
<text x="1176" y="2362" text-anchor="middle">cl_ros2_timer::ClRos2Timer</text>
<text y="2404"><tspan x="1093">+</tspan><tspan x="1093" dy="20.5">+</tspan><tspan x="1093" dy="20.5">+</tspan></text>
<text y="2404"><tspan x="1105">ClRos2Timer()</tspan><tspan x="1105" dy="20.5">~ClRos2Timer()</tspan><tspan x="1105" dy="20.5">onComponentInitialization()</tspan></text>
</svg>
</body></html>
